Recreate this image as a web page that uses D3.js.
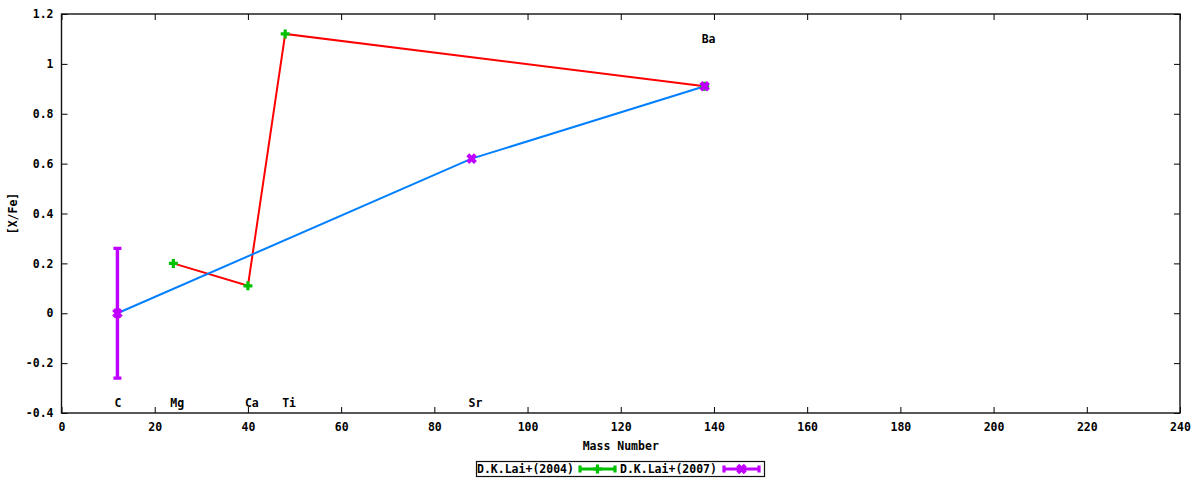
<!DOCTYPE html>
<html>
<head>
<meta charset="utf-8">
<script src="https://cdn.jsdelivr.net/npm/d3@7"></script>
<style>
  body { margin: 0; background: #fff; }
  text { font-family: "DejaVu Sans Mono", "Liberation Mono", monospace; font-weight: bold; font-size: 11.5px; fill: #000; }
</style>
</head>
<body>
<svg id="chart" width="1200" height="480"></svg>
<script>
// D.K.Lai+(2004): mass number vs [X/Fe]
var massLai04 = [24, 40, 48, 138];
var xfeLai04  = [0.20, 0.11, 1.12, 0.91];
var errLai04  = [0, 0, 0, 0];
// D.K.Lai+(2007)
var massLai07 = [12, 88, 138];
var xfeLai07  = [0.00, 0.62, 0.91];
var errLai07  = [0.26, 0, 0];
// element labels
var elemNames = ["C", "Mg", "Ca", "Ti", "Sr", "Ba"];
var elemMass  = [12, 24, 40, 48, 88, 138];
var elemY     = [-0.36, -0.36, -0.36, -0.36, -0.36, 1.10];
// ticks
var xTicks = [0, 20, 40, 60, 80, 100, 120, 140, 160, 180, 200, 220, 240];
var yTicks = [-0.4, -0.2, 0, 0.2, 0.4, 0.6, 0.8, 1.0, 1.2];
var legendNames = ["D.K.Lai+(2004)", "D.K.Lai+(2007)"];

var C = { red: "#ff0000", green: "#00c000", blue: "#0080ff", purple: "#c000ff" };

var svg = d3.select("#chart");
var L = 61.5, R = 1180, T = 14, B = 413;
var x = d3.scaleLinear().domain([0, 240]).range([L, R]);
var y = d3.scaleLinear().domain([-0.4, 1.2]).range([B, T]);
var fmt = function (d) { return String(+d.toFixed(1)); };

function axis(gen, tr, labels) {
  var g = svg.append("g").attr("transform", tr).call(gen);
  g.select(".domain").remove();
  g.selectAll(".tick line").attr("stroke", "#000").attr("stroke-width", 1);
  if (!labels) g.selectAll(".tick text").remove();
  g.selectAll(".tick text").attr("fill", "#000").style("font-size", "11.5px");
  return g;
}
axis(d3.axisBottom(x).tickValues(xTicks).tickFormat(fmt).tickSizeInner(-6).tickSizeOuter(0).tickPadding(10),
  "translate(0," + B + ")", true);
axis(d3.axisTop(x).tickValues(xTicks).tickSizeInner(-6).tickSizeOuter(0), "translate(0," + T + ")", false);
axis(d3.axisLeft(y).tickValues(yTicks).tickFormat(fmt).tickSizeInner(-6).tickSizeOuter(0).tickPadding(8),
  "translate(" + L + ",0)", true);
axis(d3.axisRight(y).tickValues(yTicks).tickSizeInner(-6).tickSizeOuter(0), "translate(" + R + ",0)", false);

svg.append("rect").attr("x", L).attr("y", T).attr("width", R - L).attr("height", B - T)
  .attr("fill", "none").attr("stroke", "#111").attr("stroke-width", 1.4);

// axis titles
svg.append("text").attr("x", (L + R) / 2).attr("y", 450).attr("text-anchor", "middle").text("Mass Number");
svg.append("text").attr("transform", "translate(17," + (T + B) / 2 + ") rotate(-90)")
  .attr("text-anchor", "middle").text("[X/Fe]");

// element labels
elemNames.forEach(function (n, i) {
  svg.append("text").attr("x", x(elemMass[i]) - 3).attr("y", y(elemY[i]) + 4).text(n);
});

var line = d3.line().x(function (d) { return x(d[0]); }).y(function (d) { return y(d[1]); });
var pts04 = massLai04.map(function (m, i) { return [m, xfeLai04[i], errLai04[i]]; });
var pts07 = massLai07.map(function (m, i) { return [m, xfeLai07[i], errLai07[i]]; });

svg.append("path").datum(pts04).attr("d", line).attr("fill", "none").attr("stroke", C.red).attr("stroke-width", 2);
svg.append("path").datum(pts07).attr("d", line).attr("fill", "none").attr("stroke", C.blue).attr("stroke-width", 2);

function plus(g, cx, cy, col) {
  g.append("path").attr("d", "M" + (cx - 4.5) + "," + cy + "H" + (cx + 4.5) + "M" + cx + "," + (cy - 4.5) + "V" + (cy + 4.5))
    .attr("stroke", col).attr("stroke-width", 3.2).attr("fill", "none");
}
function cross(g, cx, cy, col) {
  var s = 3.8;
  g.append("path").attr("d", "M" + (cx - s) + "," + (cy - s) + "L" + (cx + s) + "," + (cy + s) +
    "M" + (cx - s) + "," + (cy + s) + "L" + (cx + s) + "," + (cy - s))
    .attr("stroke", col).attr("stroke-width", 4.2).attr("fill", "none");
}
function errbar(g, cx, ylo, yhi, col) {
  g.append("path").attr("d", "M" + cx + "," + ylo + "V" + yhi +
    "M" + (cx - 4) + "," + ylo + "H" + (cx + 4) + "M" + (cx - 4) + "," + yhi + "H" + (cx + 4))
    .attr("stroke", col).attr("stroke-width", 3.4).attr("fill", "none");
}

var g04 = svg.append("g");
pts04.forEach(function (p) {
  if (p[2] > 0) errbar(g04, x(p[0]), y(p[1] - p[2]), y(p[1] + p[2]), C.green);
  plus(g04, x(p[0]), y(p[1]), C.green);
});
var g07 = svg.append("g");
pts07.forEach(function (p) {
  if (p[2] > 0) errbar(g07, x(p[0]), y(p[1] - p[2]), y(p[1] + p[2]), C.purple);
  cross(g07, x(p[0]), y(p[1]), C.purple);
});

// legend
var lg = svg.append("g");
lg.append("rect").attr("x", 476.5).attr("y", 461.5).attr("width", 288).attr("height", 15)
  .attr("fill", "#fff").attr("stroke", "#111").attr("stroke-width", 1.2);
lg.append("text").attr("x", 477).attr("y", 473).text(legendNames[0]);
lg.append("path").attr("d", "M580,469H615M580,465.5V472.5M615,465.5V472.5")
  .attr("stroke", C.green).attr("stroke-width", 3.2).attr("fill", "none");
plus(lg, 597.5, 469, C.green);
lg.append("text").attr("x", 620).attr("y", 473).text(legendNames[1]);
lg.append("path").attr("d", "M724,469H759M724,465.5V472.5M759,465.5V472.5")
  .attr("stroke", C.purple).attr("stroke-width", 3.2).attr("fill", "none");
cross(lg, 741.5, 469, C.purple);
</script>
</body>
</html>
